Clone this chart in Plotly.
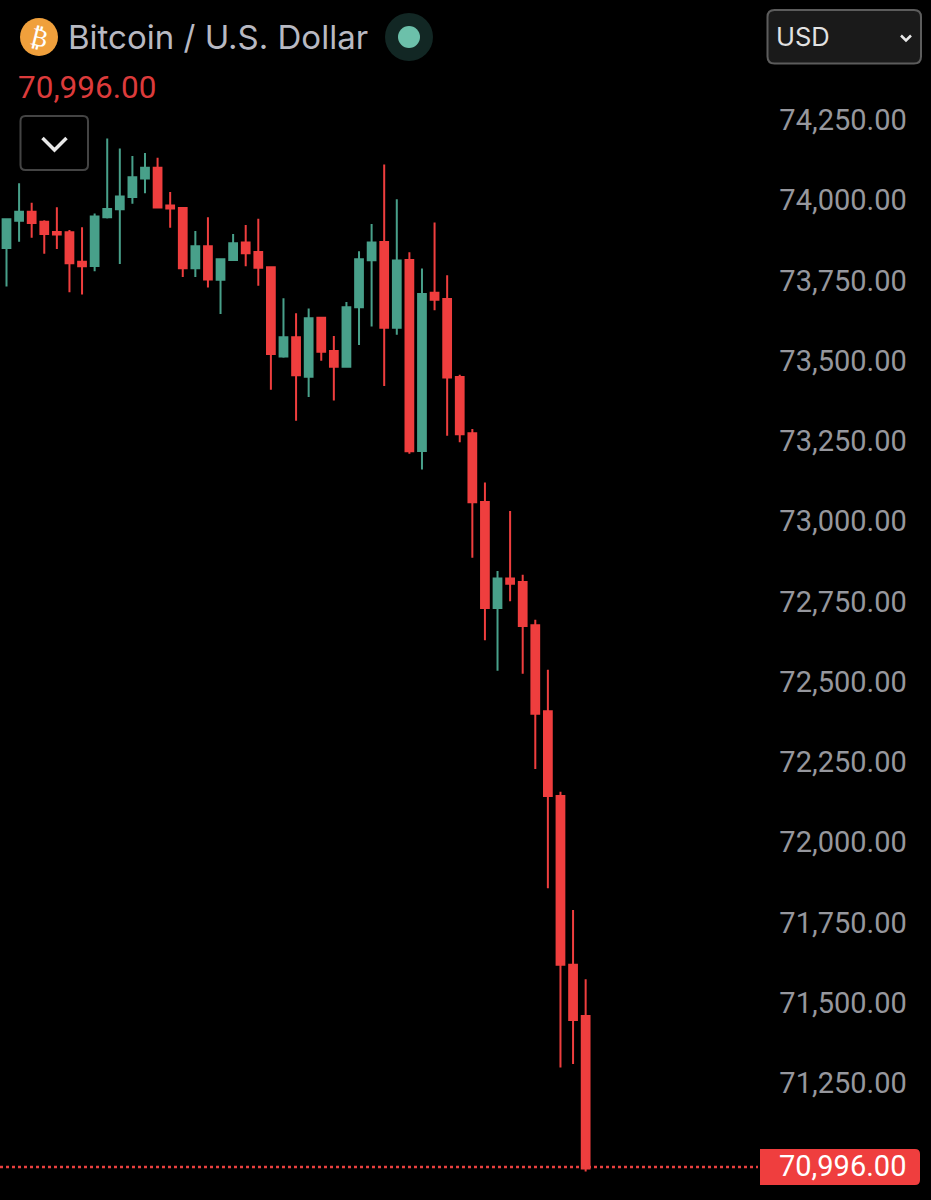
import plotly.graph_objects as go

W, H = 931, 1200
RED = "#EF3E3E"
GREEN = "#48A08A"
FONT = "Inter, Roboto, sans-serif"
NUM_FONT = "Roboto, sans-serif"  # same-width digits, like the axis in the original

# candles, oldest first
opens = [73851, 73936, 73964, 73933, 73901, 73900, 73808, 73795, 73947, 73972,
         74010, 74068, 74101, 73984, 73976, 73788, 73857, 73752, 73814, 73868,
         73839, 73791, 73513, 73573, 73450, 73634, 73530, 73481, 73667, 73813,
         73870, 73603, 73814, 73219, 73712, 73692, 73449, 73274, 73060, 72730,
         72822, 72811, 72676, 72408, 72144, 71618, 71459]
highs = [73944, 74053, 73992, 73938, 73978, 73907, 73916, 73959, 74192, 74161,
         74138, 74147, 74132, 74026, 73976, 73904, 73947, 73816, 73895, 73923,
         73942, 73791, 73695, 73648, 73663, 73636, 73577, 73683, 73841, 73926,
         74111, 74003, 73838, 73787, 73931, 73766, 73456, 73287, 73121, 72845,
         73032, 72833, 72693, 72537, 72157, 71789, 71573]
lows = [73731, 73871, 73883, 73833, 73848, 73713, 73706, 73779, 73943, 73801,
        73989, 74022, 73977, 73914, 73761, 73761, 73728, 73646, 73814, 73794,
        73734, 73410, 73509, 73313, 73387, 73500, 73376, 73481, 73549, 73607,
        73421, 73581, 73210, 73161, 73657, 73266, 73246, 72886, 72629, 72534,
        72751, 72525, 72228, 71857, 71298, 71309, 70974]
closes = [73941, 73964, 73929, 73895, 73893, 73804, 73794, 73949, 73973, 74012,
          74072, 74101, 73977, 73974, 73788, 73857, 73753, 73816, 73866, 73835,
          73790, 73521, 73573, 73455, 73632, 73528, 73481, 73667, 73816, 73868,
          73603, 73812, 73218, 73708, 73690, 73448, 73271, 73059, 72730, 72822,
          72805, 72674, 72400, 72144, 71618, 71446, 70984]

tick_values = [74250, 74000, 73750, 73500, 73250, 73000, 72750, 72500, 72250,
               72000, 71750, 71500, 71250]
last_label = "70,996.00"
last_level = 70988  # where the dotted line sits against the axis
title_text = "Bitcoin / U.S. Dollar"
currency_text = "USD"


def px(x):
    return x / W


def py(y):
    return 1 - y / H


def round_rect(x0, y0, x1, y1, r, left=True):
    # box as svg path in paper units, left corners square if left=False
    rx, ry = r / W, r / H
    a, b, c, d = px(x0), py(y0), px(x1), py(y1)
    right_side = (f"L {c - rx} {b} Q {c} {b} {c} {b - ry} "
                  f"L {c} {d + ry} Q {c} {d} {c - rx} {d} ")
    if left:
        return (f"M {a + rx} {b} " + right_side +
                f"L {a + rx} {d} Q {a} {d} {a} {d + ry} "
                f"L {a} {b - ry} Q {a} {b} {a + rx} {b} Z")
    return f"M {a} {b} " + right_side + f"L {a} {d} Z"


def chevron(xc, yc, half_w, half_h):
    return (f"M {px(xc - half_w)} {py(yc - half_h)} L {px(xc)} {py(yc + half_h)} "
            f"L {px(xc + half_w)} {py(yc - half_h)}")


def circle(xc, yc, r, color):
    return dict(type="circle", xref="paper", yref="paper", x0=px(xc - r), x1=px(xc + r),
                y0=py(yc + r), y1=py(yc - r), fillcolor=color, line_width=0)


def label(text, x, y, size, color, anchor="left", angle=0, family=FONT):
    return dict(text=text, x=px(x), y=py(y), xref="paper", yref="paper", showarrow=False,
                xanchor=anchor, yanchor="middle", textangle=angle,
                font=dict(size=size, color=color, family=family))


fig = go.Figure(go.Candlestick(
    x=list(range(len(opens))), open=opens, high=highs, low=lows, close=closes,
    whiskerwidth=0,
    increasing=dict(line=dict(color=GREEN, width=2), fillcolor=GREEN),
    decreasing=dict(line=dict(color=RED, width=2), fillcolor=RED),
))

shapes = [
    dict(type="line", xref="paper", yref="y", x0=0, x1=px(758), y0=last_level, y1=last_level,
         line=dict(color="#E8403F", width=2.5, dash="dot")),
    dict(type="path", xref="paper", yref="paper", path=round_rect(760, 1149, 920, 1185, 5, left=False),
         fillcolor=RED, line_width=0),
    circle(39, 37, 19, "#F0A03C"),
    circle(409, 37, 24, "#122724"),
    circle(409, 37, 11, "#6CC0AA"),
    dict(type="path", xref="paper", yref="paper", path=round_rect(20.5, 116, 88, 170, 5),
         fillcolor="#000000", line=dict(color="#444444", width=2)),
    dict(type="path", xref="paper", yref="paper", path=chevron(54.5, 144, 12, 6),
         line=dict(color="#E8E8E8", width=3.5)),
    dict(type="path", xref="paper", yref="paper", path=round_rect(767.5, 10, 921, 63.5, 7),
         fillcolor="#1A1A1A", line=dict(color="#5C5C5C", width=2)),
    dict(type="path", xref="paper", yref="paper", path=chevron(906, 38, 5, 2.5),
         line=dict(color="#E8E8E8", width=2.5)),
]

annotations = [
    label("₿", 39, 37, 25, "#FFFFFF", anchor="center", angle=14, family="DejaVu Sans"),
    label(title_text, 66, 37, 33, "#B8B9C2"),
    label(last_label, 16, 87, 31.5, "#DC3B3B", family=NUM_FONT),
    label(currency_text, 774, 36, 25.5, "#E2E2E2"),
    label(last_label, 908, 1166, 29, "#FFFFFF", anchor="right", family=NUM_FONT),
]

fig.update_layout(
    width=W, height=H,
    margin=dict(l=0, r=0, t=0, b=0, pad=0),
    paper_bgcolor="#000000", plot_bgcolor="#000000",
    showlegend=False, boxgap=0.12,
    shapes=shapes, annotations=annotations,
    xaxis=dict(visible=False, range=[-0.516, 73.43], rangeslider=dict(visible=False)),
    yaxis=dict(
        side="right", range=[70885.5, 74623.8], showgrid=False, zeroline=False, showline=False,
        tickvals=tick_values, tickformat=",.2f", ticks="inside", ticklen=27,
        tickcolor="rgba(0,0,0,0)", ticklabelposition="inside",
        tickfont=dict(size=29, color="#96979D", family=NUM_FONT),
    ),
)

fig.write_html("out.html", config=dict(displayModeBar=False),
               post_script="document.body.style.margin='0';")
